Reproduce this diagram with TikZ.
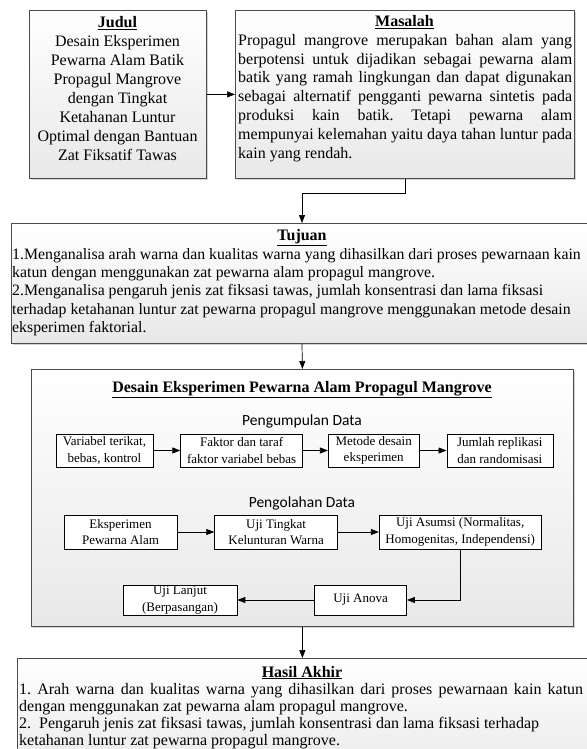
\documentclass[tikz,border=0pt]{standalone}
\usepackage{fontspec}
\setmainfont{Liberation Serif}
\newfontfamily\calibrifont{Carlito}
\usetikzlibrary{arrows.meta,positioning,shadows}

\frenchspacing
\newcommand{\fullline}[2]{\makebox[#1][s]{#2}}

\begin{document}
\begin{tikzpicture}[
  x=1pt, y=-1pt,
  every node/.style={font=\fontsize{16}{18.5}\selectfont, inner sep=0pt},
  mainbox/.style={draw=black!70, line width=0.8pt, top color=white, bottom color=black!9,
    anchor=north west, drop shadow={shadow xshift=1.5pt, shadow yshift=-1.5pt, fill=black!35}},
  headtxt/.style={anchor=base, font=\fontsize{16}{18.5}\selectfont\bfseries},
  bodytxt/.style={anchor=north west, align=left},
  stepbox/.style={draw=black, line width=0.6pt, fill=white, align=center,
    font=\fontsize{13}{16.5}\selectfont, minimum height=33pt},
  subhead/.style={font=\calibrifont\fontsize{15.5}{18}\selectfont},
  flow/.style={-{Triangle[length=8pt,width=6pt]}, line width=0.7pt}
]
  \useasboundingbox (0,0) rectangle (586,749);

  % --- Judul und Masalah ---
  \node[mainbox, minimum width=177pt, minimum height=168pt] (judul) at (29,10) {};
  \node[anchor=north, align=center, font=\fontsize{16}{19}\selectfont] (judultxt) at (117.5,16)
    {\underline{\textbf{Judul}}\\ Desain Eksperimen\\ Pewarna Alam Batik\\ Propagul Mangrove\\
     dengan Tingkat\\ Ketahanan Luntur\\ Optimal dengan Bantuan\\ Zat Fiksatif Tawas};

  \node[mainbox, minimum width=339pt, minimum height=168pt] (masalah) at (235,10) {};
  \node[headtxt] (masalahhead) at (404.5,27) {\underline{Masalah}};
  \node[bodytxt, font=\fontsize{16}{18.8}\selectfont] (masalahtxt) at (238,34)
    {\fullline{334pt}{Propagul mangrove merupakan bahan alam yang}\\
     \fullline{334pt}{berpotensi untuk dijadikan sebagai pewarna alam}\\
     \fullline{334pt}{batik yang ramah lingkungan dan dapat digunakan}\\
     \fullline{334pt}{sebagai alternatif pengganti pewarna sintetis pada}\\
     \fullline{334pt}{produksi kain batik. Tetapi pewarna alam}\\
     \fullline{334pt}{mempunyai kelemahan yaitu daya tahan luntur pada}\\
     kain yang rendah.};

  \draw[flow] (judul.east) -- (judul.east -| masalah.west);

  % --- Tujuan ---
  \node[mainbox, minimum width=600pt, minimum height=120pt] (tujuan) at (11,223) {};
  \node[headtxt] (tujuanhead) at (302,240) {\underline{Tujuan}};
  \node[bodytxt, font=\fontsize{15.8}{18.3}\selectfont] (tujuantxt) at (12,248)
    {1.Menganalisa arah warna dan kualitas warna yang dihasilkan dari proses pewarnaan kain\\
     katun dengan menggunakan zat pewarna alam propagul mangrove.\\
     2.Menganalisa pengaruh jenis zat fiksasi tawas, jumlah konsentrasi dan lama fiksasi\\
     terhadap ketahanan luntur zat pewarna propagul mangrove menggunakan metode desain\\
     eksperimen faktorial.};

  \coordinate (knick) at (302,193);
  \draw[flow] (masalah.south) |- (knick) -- (knick |- tujuan.north);

  % --- Desain Eksperimen ---
  \node[mainbox, minimum width=542pt, minimum height=257pt] (desain) at (31,369) {};
  \node[headtxt] (desainhead) at (302,392) {\underline{Desain Eksperimen Pewarna Alam Propagul Mangrove}};

  \node[subhead] (kumpul) at (302,421) {Pengumpulan Data};
  \node[stepbox, minimum width=97pt] (variabel) at (104.5,450.5) {Variabel terikat,\\bebas, kontrol};
  \node[stepbox, minimum width=122pt, right=27pt of variabel] (faktor) {Faktor dan taraf\\faktor variabel bebas};
  \node[stepbox, minimum width=91pt, right=25pt of faktor] (metode) {Metode desain\\eksperimen};
  \node[stepbox, minimum width=106pt, right=27pt of metode] (replikasi) {Jumlah replikasi\\dan randomisasi};

  \node[subhead] (olah) at (302,503) {Pengolahan Data};
  \node[stepbox, minimum width=113pt, minimum height=34pt] (eksperimen) at (120.5,532) {Eksperimen\\Pewarna Alam};
  \node[stepbox, minimum width=123pt, minimum height=34pt, right=37pt of eksperimen] (luntur) {Uji Tingkat\\Kelunturan Warna};
  \node[stepbox, minimum width=162pt, minimum height=34pt, right=41pt of luntur] (asumsi) {Uji Asumsi (Normalitas,\\Homogenitas, Independensi)};
  \node[stepbox, minimum width=114pt, minimum height=30pt] (lanjut) at (180,600) {Uji Lanjut\\(Berpasangan)};
  \node[stepbox, minimum width=92pt, minimum height=30pt, right=77pt of lanjut] (anova) {Uji Anova};

  \draw[flow] (variabel) -- (faktor);
  \draw[flow] (faktor) -- (metode);
  \draw[flow] (metode) -- (replikasi);
  \draw[flow] (eksperimen) -- (luntur);
  \draw[flow] (luntur) -- (asumsi);
  \draw[flow] (asumsi.south) |- (anova.east);
  \draw[flow] (anova) -- (lanjut);

  \draw[flow] (knick |- tujuan.south) -- (desain.north);

  % --- Hasil Akhir ---
  \node[mainbox, minimum width=600pt, minimum height=120pt] (hasil) at (17,658) {};
  \node[headtxt] (hasilhead) at (302,677) {\underline{Hasil Akhir}};
  \node[bodytxt, font=\fontsize{16}{17}\selectfont] (hasiltxt) at (19,683)
    {\fullline{564pt}{1. Arah warna dan kualitas warna yang dihasilkan dari proses pewarnaan kain katun}\\
     dengan menggunakan zat pewarna alam propagul mangrove.\\
     2.~ Pengaruh jenis zat fiksasi tawas, jumlah konsentrasi dan lama fiksasi terhadap\\
     ketahanan luntur zat pewarna propagul mangrove.};

  \draw[flow] (desain.south) -- (desain.south |- hasil.north);
\end{tikzpicture}
\end{document}
